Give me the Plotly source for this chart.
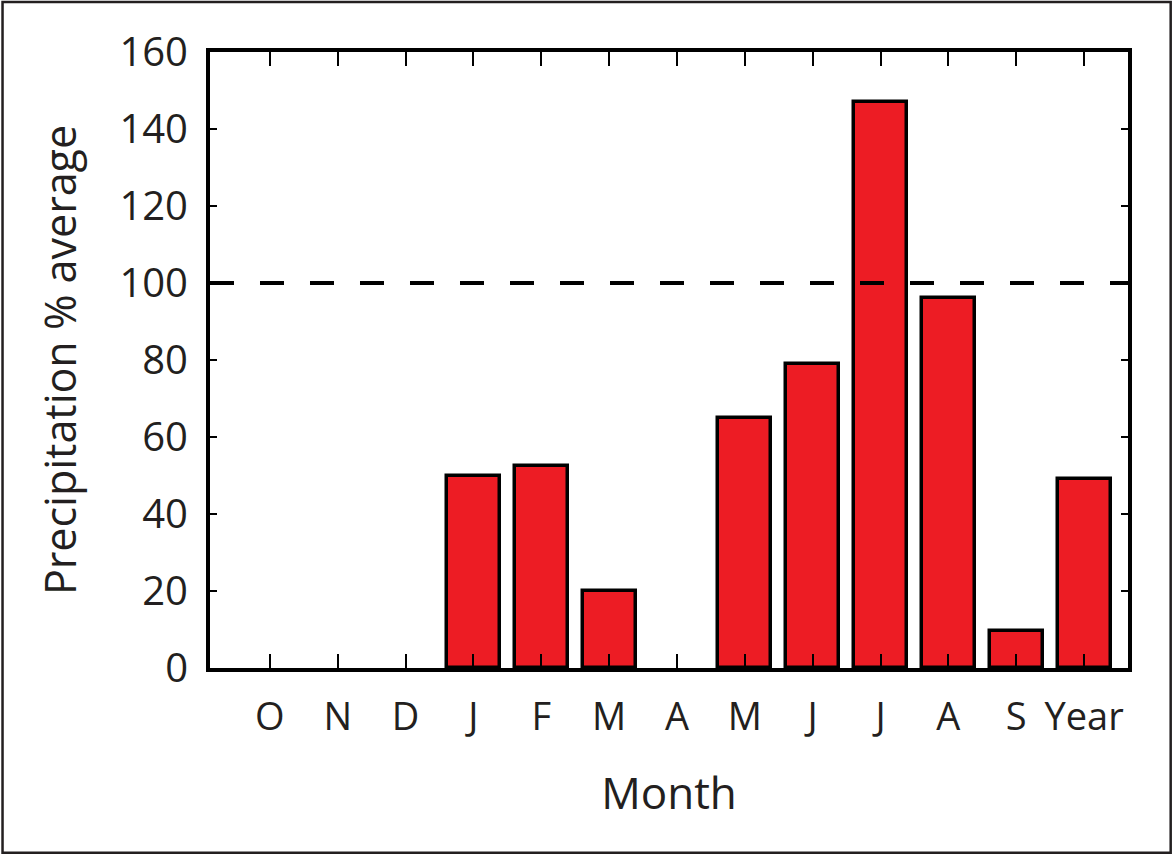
import plotly.graph_objects as go

# months Oct..Sep plus the water-year total
months = ["O", "N", "D", "J", "F", "M", "A", "M", "J", "J", "A", "S", "Year"]
precip_pct = [None, None, None, 50, 52.5, 20, None, 65, 79, 147, 96, 9.5, 49]
average_line = 100

pos = list(range(len(months)))

fig = go.Figure()

fig.add_trace(go.Bar(
    x=pos, y=precip_pct,
    width=0.78,
    marker=dict(color="#ed1c24", line=dict(color="black", width=3.5)),
    showlegend=False,
    hoverinfo="skip",
))

# dashed 100% reference line
fig.add_trace(go.Scatter(
    x=[-0.882, 12.647], y=[average_line, average_line],
    mode="lines",
    line=dict(color="black", width=4, dash="24px,26px"),
    showlegend=False,
    hoverinfo="skip",
))

font = "Open Sans, Noto Sans, sans-serif"

fig.update_layout(
    width=1173, height=857,
    margin=dict(l=210, r=45, t=52, b=189),
    plot_bgcolor="white",
    paper_bgcolor="white",
    font=dict(family=font, color="#231f20"),
    bargap=0,
    shapes=[dict(
        type="rect", xref="paper", yref="paper",
        x0=-0.226, x1=1.0465, y0=-0.3, y1=1.081,
        line=dict(color="#231f20", width=2.5),
        fillcolor="rgba(0,0,0,0)",
        layer="below",
    )],
)

fig.update_xaxes(
    range=[-0.882, 12.647],
    tickvals=pos, ticktext=months,
    tickfont=dict(size=38),
    ticks="inside", ticklen=14, tickwidth=2, tickcolor="black",
    showline=True, linewidth=4, linecolor="black", mirror="ticks",
    showgrid=False, zeroline=False,
    ticklabelstandoff=12,
    title=dict(text="Month", font=dict(size=44), standoff=40),
)

fig.update_yaxes(
    range=[0, 160],
    tickvals=[0, 20, 40, 60, 80, 100, 120, 140, 160],
    tickfont=dict(size=40),
    ticks="inside", ticklen=7, tickwidth=2, tickcolor="black",
    showline=True, linewidth=4, linecolor="black", mirror="ticks",
    showgrid=False, zeroline=False,
    ticklabelstandoff=10,
    title=dict(text="Precipitation % average", font=dict(size=43), standoff=30),
)

fig.write_html("out.html", config={"displayModeBar": False},
               post_script="document.body.style.margin='0';")
